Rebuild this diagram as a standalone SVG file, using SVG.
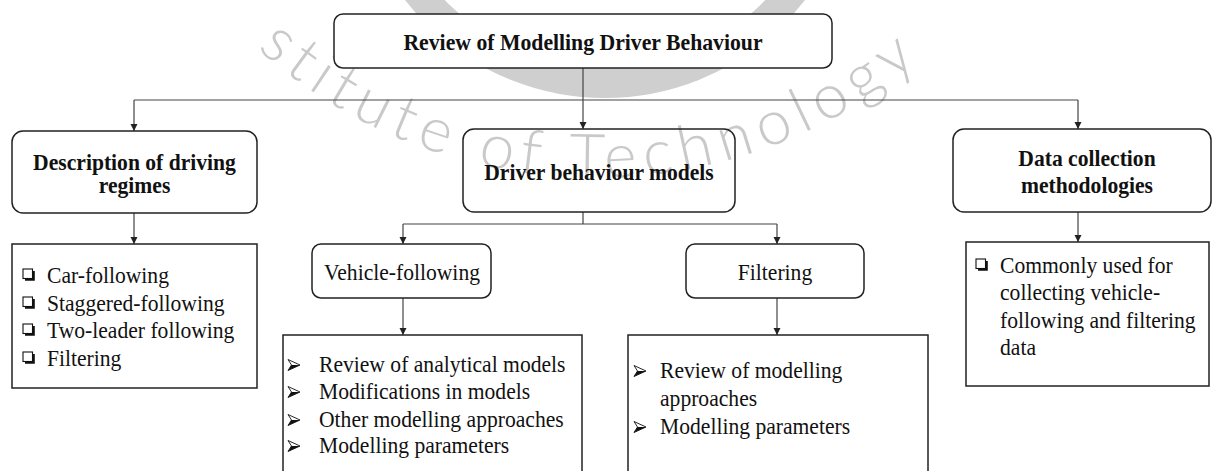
<svg xmlns="http://www.w3.org/2000/svg" xmlns:xlink="http://www.w3.org/1999/xlink" width="1213" height="471" viewBox="0 0 1213 471">
  <style>
    .box { fill: none; stroke: #222; stroke-width: 1.5; }
    .top { fill: #fff; }
    .b { font-family: "Liberation Serif", "Times New Roman", serif; font-weight: bold; font-size: 24px; fill: #111; }
    .r { font-family: "Liberation Serif", "Times New Roman", serif; font-size: 24px; fill: #111; }
    .m { text-anchor: middle; }
    .conn path { fill: none; stroke: #444; stroke-width: 1.2; }
    .conn .arr { marker-end: url(#ah); }
    .wm { font-family: Lato, "Open Sans", sans-serif; font-weight: 300; font-size: 62px; fill: #c9c9c9; letter-spacing: 8px; }
  </style>
  <defs>
    <marker id="ah" viewBox="0 0 10 10" refX="10" refY="5" markerWidth="7" markerHeight="8" markerUnits="userSpaceOnUse" orient="auto">
      <path d="M0,0 L10,5 L0,10 Z" fill="#222"/>
    </marker>
    <!-- square bullet with drop shadow -->
    <g id="chk">
      <rect x="0" y="0" width="9.5" height="9.5" fill="none" stroke="#111" stroke-width="1.1"/>
      <path d="M2,10.8 H10.8 V2" fill="none" stroke="#111" stroke-width="2"/>
    </g>
    <!-- arrowhead bullet -->
    <g id="arw">
      <path d="M0,0 L12,5.5 L0,11 L3.5,5.5 Z" fill="#fff" stroke="#111" stroke-width="0.9" stroke-linejoin="round"/>
      <path d="M0,11 L12,5.5 L3.5,5.5 Z" fill="#111"/>
    </g>
    <!-- baseline of the seal lettering -->
    <path id="seal" d="M 257.1,48.3 A 505 505 0 0 0 981.8,-2.4"/>
  </defs>

  <rect width="1213" height="471" fill="#fff"/>

  <!-- faint seal in the background -->
  <g id="seal-mark">
    <circle cx="605" cy="-155" r="238" fill="none" stroke="#cfcfcf" stroke-width="30"/>
    <text class="wm"><textPath xlink:href="#seal" href="#seal">stitute of Technology</textPath></text>
  </g>

  <!-- connectors -->
  <g id="connectors" class="conn">
    <path class="arr" d="M583,68 V129"/>
    <path d="M134,100 H1078"/>
    <path class="arr" d="M134,100 V131"/>
    <path class="arr" d="M1078,100 V129"/>
    <path class="arr" d="M134,213 V244"/>
    <path d="M583,212 V224 M403,224 H777"/>
    <path class="arr" d="M403,224 V244"/>
    <path class="arr" d="M777,224 V244"/>
    <path class="arr" d="M403,298 V335"/>
    <path class="arr" d="M777,298 V335"/>
    <path class="arr" d="M1078,212 V242"/>
  </g>

  <g id="review">
    <rect class="box top" x="334" y="14" width="498" height="54" rx="9"/>
    <text class="b m" transform="matrix(0.906 0 0 1 583 50)">Review of Modelling Driver Behaviour</text>
  </g>

  <g id="driving-regimes">
    <rect class="box" x="12" y="131" width="245" height="82" rx="11"/>
    <text class="b m" transform="matrix(0.9 0 0 1 134.5 170)">Description of driving</text>
    <text class="b m" transform="matrix(0.9 0 0 1 134.5 193)">regimes</text>
  </g>

  <g id="driver-models">
    <rect class="box" x="463" y="129" width="272" height="83" rx="11"/>
    <text class="b m" transform="matrix(0.9 0 0 1 599 180)">Driver behaviour models</text>
  </g>

  <g id="data-collection">
    <rect class="box" x="953" y="129" width="258" height="83" rx="11"/>
    <text class="b m" transform="matrix(0.9 0 0 1 1087 166)">Data collection</text>
    <text class="b m" transform="matrix(0.9 0 0 1 1087 193)">methodologies</text>
  </g>

  <g id="regimes-list">
    <rect class="box" x="12" y="244" width="245" height="144"/>
    <use href="#chk" xlink:href="#chk" x="23" y="269"/>
    <use href="#chk" xlink:href="#chk" x="23" y="297"/>
    <use href="#chk" xlink:href="#chk" x="23" y="324"/>
    <use href="#chk" xlink:href="#chk" x="23" y="352"/>
    <text class="r" transform="matrix(0.9 0 0 1 47 283)">Car-following</text>
    <text class="r" transform="matrix(0.9 0 0 1 47 311)">Staggered-following</text>
    <text class="r" transform="matrix(0.9 0 0 1 47 338)">Two-leader following</text>
    <text class="r" transform="matrix(0.9 0 0 1 47 366)">Filtering</text>
  </g>

  <g id="vehicle-following">
    <rect class="box" x="312" y="244" width="179" height="54" rx="9"/>
    <text class="r m" transform="matrix(0.9 0 0 1 402 280)">Vehicle-following</text>
  </g>

  <g id="filtering">
    <rect class="box" x="686" y="244" width="178" height="54" rx="9"/>
    <text class="r m" transform="matrix(0.9 0 0 1 775 280)">Filtering</text>
  </g>

  <g id="vehicle-list">
    <rect class="box" x="283" y="335" width="299" height="150"/>
    <use href="#arw" xlink:href="#arw" x="288" y="359.5"/>
    <use href="#arw" xlink:href="#arw" x="288" y="386.5"/>
    <use href="#arw" xlink:href="#arw" x="288" y="414.5"/>
    <use href="#arw" xlink:href="#arw" x="288" y="440.5"/>
    <text class="r" transform="matrix(0.9 0 0 1 319 372)">Review of  analytical models</text>
    <text class="r" transform="matrix(0.9 0 0 1 319 399)">Modifications in models</text>
    <text class="r" transform="matrix(0.9 0 0 1 319 427)">Other modelling approaches</text>
    <text class="r" transform="matrix(0.9 0 0 1 319 453)">Modelling parameters</text>
  </g>

  <g id="filtering-list">
    <rect class="box" x="628" y="335" width="300" height="150"/>
    <use href="#arw" xlink:href="#arw" x="634" y="365.5"/>
    <use href="#arw" xlink:href="#arw" x="634" y="421.5"/>
    <text class="r" transform="matrix(0.9 0 0 1 660 378)">Review of  modelling</text>
    <text class="r" transform="matrix(0.9 0 0 1 660 406)">approaches</text>
    <text class="r" transform="matrix(0.9 0 0 1 660 434)">Modelling parameters</text>
  </g>

  <g id="data-list">
    <rect class="box" x="966" y="242" width="243" height="144"/>
    <use href="#chk" xlink:href="#chk" x="976" y="259"/>
    <text class="r" transform="matrix(0.9 0 0 1 1000 273)">Commonly used for</text>
    <text class="r" transform="matrix(0.9 0 0 1 1000 300)">collecting vehicle-</text>
    <text class="r" transform="matrix(0.9 0 0 1 1000 328)">following and filtering</text>
    <text class="r" transform="matrix(0.9 0 0 1 1000 355)">data</text>
  </g>
</svg>
